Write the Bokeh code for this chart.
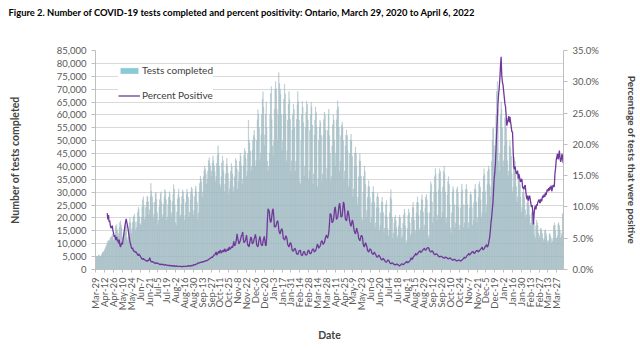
import math
from bokeh.plotting import figure
from bokeh.models import (Range1d, LinearAxis, FixedTicker, NumeralTickFormatter,
                          PrintfTickFormatter, Legend, LegendItem, Title)
from bokeh.embed import file_html
from bokeh.resources import INLINE

title_text = ("Figure 2. Number of COVID-19 tests completed and percent positivity: "
              "Ontario, March 29, 2020 to April 6, 2022")

tick_labels = ["Mar-29", "Apr-12", "Apr-26", "May-10", "May-24", "Jun-7", "Jun-21", "Jul-5",
               "Jul-19", "Aug-2", "Aug-16", "Aug-30", "Sep-13", "Sep-27", "Oct-11", "Oct-25",
               "Nov-8", "Nov-22", "Dec-6", "Dec-20", "Jan-3", "Jan-17", "Jan-31", "Feb-14",
               "Feb-28", "Mar-14", "Mar-28", "Apr-11", "Apr-25", "May-9", "May-23", "Jun-6",
               "Jun-20", "Jul-4", "Jul-18", "Aug-1", "Aug-15", "Aug-29", "Sep-12", "Sep-26",
               "Oct-10", "Oct-24", "Nov-7", "Nov-21", "Dec-5", "Dec-19", "Jan-2", "Jan-16",
               "Jan-30", "Feb-13", "Feb-27", "Mar-13", "Mar-27"]

# Daily tests completed (thousands), one row per week starting Sunday Mar 29, 2020
tests_k = [
    [5.5, 5.2, 4.8, 5.0, 5.4, 5.8, 5.3],
    [5.0, 5.2, 5.8, 6.3, 6.6, 6.9, 7.2],
    [7.8, 8.3, 8.9, 9.6, 10.2, 11.0, 11.3],
    [10.8, 11.5, 12.6, 12.2, 12.9, 13.8, 12.8],
    [11.2, 12.0, 13.2, 17.0, 16.2, 17.5, 15.4],
    [13.0, 14.1, 16.4, 18.2, 18.9, 17.3, 16.0],
    [12.4, 10.8, 12.0, 14.2, 17.1, 18.4, 17.0],
    [12.2, 11.4, 12.6, 16.0, 18.3, 20.1, 18.2],
    [14.0, 15.8, 18.2, 20.3, 20.6, 21.5, 18.4],
    [15.2, 16.3, 18.5, 22.1, 24.2, 23.4, 20.5],
    [17.8, 17.2, 20.4, 24.3, 27.1, 28.2, 25.0],
    [19.3, 20.4, 24.1, 26.2, 28.5, 28.1, 26.3],
    [21.0, 23.2, 28.3, 33.5, 30.4, 28.2, 26.0],
    [20.1, 21.4, 26.2, 29.4, 30.1, 27.2, 22.0],
    [17.3, 19.2, 24.3, 27.1, 29.4, 30.2, 26.1],
    [20.2, 21.3, 25.4, 28.2, 31.1, 30.3, 27.2],
    [19.1, 20.4, 25.2, 28.1, 30.2, 29.4, 27.0],
    [20.3, 22.1, 26.4, 29.2, 33.0, 31.2, 25.1],
    [18.2, 17.1, 22.3, 27.4, 29.2, 31.3, 28.1],
    [20.1, 21.2, 25.3, 28.4, 31.0, 30.2, 27.4],
    [19.2, 21.1, 26.0, 29.3, 31.2, 30.1, 28.0],
    [20.4, 22.2, 27.1, 30.2, 32.0, 31.3, 29.1],
    [21.2, 23.1, 28.2, 31.3, 32.4, 30.2, 26.0],
    [19.3, 22.0, 30.1, 33.4, 36.2, 35.1, 34.0],
    [28.1, 30.2, 36.1, 38.3, 40.2, 39.1, 37.0],
    [33.2, 35.1, 38.2, 42.3, 43.4, 41.2, 40.1],
    [36.1, 38.2, 41.3, 44.1, 42.2, 40.3, 38.0],
    [34.2, 36.1, 41.2, 44.3, 48.0, 45.1, 40.2],
    [33.1, 32.0, 36.2, 41.3, 44.1, 42.2, 38.1],
    [30.2, 33.1, 37.2, 41.0, 43.2, 40.1, 37.3],
    [29.1, 31.2, 34.3, 38.1, 41.2, 40.0, 37.1],
    [30.2, 32.1, 36.0, 40.2, 43.1, 42.3, 39.0],
    [31.1, 34.2, 38.0, 42.1, 45.2, 44.0, 40.3],
    [33.2, 35.1, 40.2, 44.3, 47.1, 46.0, 43.2],
    [36.1, 38.2, 45.0, 58.0, 50.2, 49.1, 46.0],
    [38.2, 40.1, 46.3, 50.2, 52.1, 54.0, 51.2],
    [40.1, 42.3, 50.2, 58.1, 62.0, 60.2, 55.1],
    [42.2, 45.1, 52.3, 60.1, 66.2, 69.0, 63.1],
    [48.1, 52.2, 60.3, 65.1, 55.0, 42.1, 38.2],
    [40.1, 45.2, 60.1, 68.3, 71.0, 58.2, 48.0],
    [44.2, 50.1, 62.3, 70.1, 73.0, 70.2, 62.1],
    [50.2, 60.1, 76.5, 72.3, 70.1, 68.0, 60.2],
    [46.1, 50.2, 60.3, 66.1, 72.0, 68.2, 60.1],
    [42.2, 46.1, 58.0, 64.2, 69.1, 66.0, 58.3],
    [38.1, 42.2, 54.1, 60.0, 64.2, 62.1, 55.0],
    [38.2, 42.1, 58.3, 64.0, 69.1, 65.2, 58.0],
    [34.1, 33.2, 50.1, 60.2, 65.3, 63.0, 57.1],
    [36.2, 40.1, 55.2, 61.0, 65.4, 64.1, 58.0],
    [35.1, 38.2, 54.0, 60.1, 65.0, 63.2, 56.1],
    [33.2, 37.1, 52.2, 58.0, 63.1, 61.0, 55.2],
    [32.1, 35.2, 50.1, 55.3, 58.0, 57.1, 52.0],
    [34.2, 37.1, 52.0, 58.2, 61.1, 60.0, 54.1],
    [35.1, 39.2, 54.0, 60.1, 62.2, 52.0, 45.1],
    [34.2, 36.1, 48.0, 56.2, 60.1, 58.0, 50.2],
    [40.1, 45.2, 58.1, 62.0, 65.5, 63.1, 55.2],
    [38.2, 42.1, 52.0, 56.1, 57.2, 55.0, 50.1],
    [35.1, 38.2, 48.0, 52.1, 54.2, 52.0, 46.1],
    [32.2, 35.1, 45.0, 50.2, 52.6, 50.1, 44.0],
    [28.1, 31.2, 40.0, 45.1, 47.5, 45.2, 40.0],
    [25.2, 28.1, 36.0, 42.2, 45.0, 42.1, 36.2],
    [20.1, 19.2, 30.0, 36.1, 40.2, 38.0, 33.1],
    [20.2, 23.1, 28.0, 32.2, 34.5, 32.1, 28.0],
    [18.1, 20.2, 26.0, 30.1, 32.2, 30.0, 26.1],
    [16.2, 18.1, 24.0, 28.2, 29.6, 28.1, 24.0],
    [15.1, 17.2, 22.0, 26.1, 28.0, 26.2, 22.1],
    [14.2, 16.1, 21.0, 25.2, 26.8, 20.1, 16.0],
    [13.1, 15.2, 22.0, 28.1, 31.0, 27.2, 20.1],
    [12.2, 14.1, 18.0, 20.2, 21.1, 19.0, 16.2],
    [12.1, 13.2, 17.0, 20.1, 21.2, 20.0, 16.1],
    [12.2, 13.1, 18.0, 21.2, 23.5, 22.1, 17.0],
    [10.1, 11.2, 16.0, 21.1, 23.5, 22.0, 18.1],
    [13.2, 14.1, 20.0, 24.2, 26.1, 24.0, 19.2],
    [14.1, 15.2, 22.0, 26.1, 28.2, 26.0, 21.1],
    [15.2, 16.1, 23.0, 27.2, 29.1, 27.0, 22.2],
    [15.1, 17.2, 24.0, 28.1, 29.2, 27.1, 22.0],
    [13.2, 12.1, 22.0, 30.2, 34.1, 33.0, 26.2],
    [18.1, 20.2, 30.0, 36.1, 39.2, 37.0, 30.1],
    [19.2, 21.1, 31.0, 37.2, 39.1, 38.0, 30.2],
    [20.1, 22.2, 32.0, 38.1, 40.2, 37.0, 30.1],
    [18.2, 20.1, 29.0, 34.2, 36.1, 33.0, 25.2],
    [16.1, 14.2, 22.0, 30.1, 32.2, 31.0, 25.1],
    [16.2, 18.1, 25.0, 31.2, 32.1, 30.0, 24.2],
    [15.1, 17.2, 24.0, 30.1, 33.2, 31.0, 25.1],
    [16.2, 18.1, 25.0, 31.2, 33.1, 31.0, 25.2],
    [16.1, 18.2, 24.0, 29.1, 30.2, 29.0, 24.1],
    [17.2, 19.1, 26.0, 31.2, 33.1, 31.0, 26.2],
    [18.1, 20.2, 28.0, 33.1, 34.2, 32.0, 27.1],
    [20.2, 22.1, 30.0, 36.2, 39.1, 37.0, 30.2],
    [22.1, 25.2, 33.0, 38.1, 40.2, 39.0, 33.1],
    [28.2, 32.1, 42.0, 50.2, 54.6, 55.0, 48.1],
    [40.1, 45.2, 60.0, 69.1, 73.0, 62.2, 42.0],
    [38.1, 45.2, 60.0, 65.1, 62.2, 55.0, 40.1],
    [42.2, 48.1, 59.0, 58.2, 55.1, 50.0, 42.2],
    [36.1, 38.2, 48.0, 50.1, 47.2, 44.0, 37.1],
    [30.2, 32.1, 42.0, 43.6, 42.1, 38.0, 32.2],
    [26.1, 28.2, 36.0, 37.1, 36.2, 33.0, 28.1],
    [22.2, 24.1, 30.0, 31.2, 30.1, 28.0, 23.2],
    [20.1, 21.2, 26.0, 28.1, 27.2, 25.0, 21.1],
    [17.2, 18.1, 22.0, 23.1, 22.2, 21.0, 18.1],
    [13.2, 12.1, 17.0, 19.2, 18.1, 17.0, 14.2],
    [12.1, 13.2, 15.8, 16.1, 15.2, 14.0, 12.1],
    [11.2, 12.1, 15.0, 15.5, 14.1, 13.0, 11.2],
    [10.1, 11.2, 13.8, 14.1, 13.0, 12.1, 10.2],
    [11.1, 12.2, 17.0, 18.1, 17.2, 15.0, 12.1],
    [12.2, 13.1, 17.7, 18.2, 17.1, 15.0, 12.2],
    [13.1, 14.2, 21.6, 22.0],
]

N = None
# Daily percent positive (%), same weekly rows
pct_pos = [
    [N, N, N, N, N, N, N],
    [N, N, N, N, N, N, N],
    [N, N, N, N, 9.0, 8.0, 8.7],
    [7.6, 7.8, 7.0, 6.6, 6.8, 7.0, 6.2],
    [5.8, 5.2, 5.5, 5.0, 4.7, 5.2, 4.6],
    [4.6, 4.2, 4.8, 3.9, 3.6, 4.0, 4.3],
    [4.0, 4.8, 5.5, 6.2, 7.0, 7.6, 8.1],
    [7.5, 7.0, 6.4, 5.7, 5.0, 4.4, 4.0],
    [3.6, 3.3, 3.5, 3.1, 2.9, 3.0, 2.8],
    [2.7, 2.8, 2.5, 2.4, 2.2, 2.5, 2.3],
    [2.2, 2.0, 1.8, 1.7, 1.6, 1.8, 1.6],
    [1.6, 1.5, 1.4, 1.4, 1.3, 1.5, 1.4],
    [1.5, 1.9, 1.6, 1.3, 1.2, 1.3, 1.2],
    [1.2, 1.1, 1.0, 1.0, 1.1, 1.0, 1.0],
    [1.0, 0.9, 0.9, 0.8, 0.8, 0.9, 0.8],
    [0.8, 0.8, 0.8, 0.7, 0.7, 0.8, 0.7],
    [0.7, 0.7, 0.6, 0.7, 0.6, 0.7, 0.6],
    [0.6, 0.6, 0.6, 0.5, 0.6, 0.6, 0.5],
    [0.5, 0.6, 0.5, 0.5, 0.5, 0.5, 0.5],
    [0.5, 0.5, 0.5, 0.4, 0.5, 0.5, 0.5],
    [0.5, 0.5, 0.5, 0.5, 0.5, 0.6, 0.5],
    [0.6, 0.6, 0.5, 0.6, 0.6, 0.7, 0.6],
    [0.7, 0.8, 0.7, 0.8, 0.8, 0.9, 0.9],
    [1.0, 1.1, 1.0, 1.1, 1.1, 1.2, 1.1],
    [1.2, 1.3, 1.2, 1.3, 1.3, 1.4, 1.4],
    [1.4, 1.5, 1.5, 1.6, 1.7, 1.7, 1.8],
    [1.9, 2.0, 1.9, 2.1, 2.2, 2.4, 2.3],
    [2.6, 2.8, 2.3, 2.5, 2.7, 2.9, 2.6],
    [3.0, 3.1, 2.6, 2.8, 2.9, 3.1, 2.8],
    [3.2, 3.3, 2.8, 3.0, 3.1, 3.3, 3.0],
    [3.4, 3.6, 3.2, 3.4, 3.5, 3.7, 3.5],
    [4.0, 4.5, 3.8, 3.9, 4.2, 4.8, 5.7],
    [5.0, 4.6, 4.1, 4.3, 4.6, 5.0, 5.4],
    [5.6, 6.0, 4.8, 4.3, 4.4, 4.6, 5.0],
    [5.5, 4.6, 3.8, 4.0, 3.6, 4.2, 4.8],
    [5.2, 4.9, 4.1, 4.2, 4.4, 4.9, 5.2],
    [5.6, 5.0, 3.9, 3.8, 3.6, 4.3, 4.8],
    [5.3, 4.8, 4.0, 3.9, 3.8, 4.4, 4.9],
    [5.3, 4.6, 3.8, 3.9, 5.5, 8.0, 9.7],
    [9.5, 9.2, 8.0, 7.5, 7.8, 8.6, 9.4],
    [9.7, 8.5, 6.8, 6.9, 6.8, 7.2, 7.6],
    [7.8, 7.4, 6.3, 5.9, 5.7, 6.1, 6.4],
    [6.5, 6.0, 5.0, 4.9, 4.7, 5.0, 5.4],
    [5.2, 4.8, 4.0, 3.8, 3.6, 4.0, 4.3],
    [4.2, 3.8, 3.1, 3.0, 2.9, 3.2, 3.4],
    [3.3, 3.0, 2.5, 2.5, 2.4, 2.7, 3.0],
    [3.0, 3.1, 2.4, 2.3, 2.2, 2.5, 2.8],
    [2.9, 2.7, 2.3, 2.4, 2.3, 2.6, 3.0],
    [3.1, 2.9, 2.5, 2.6, 2.6, 2.9, 3.2],
    [3.3, 3.2, 2.8, 2.9, 3.0, 3.3, 3.7],
    [4.1, 3.8, 3.4, 3.6, 3.7, 4.0, 4.5],
    [4.6, 4.4, 4.0, 4.2, 4.3, 4.8, 5.2],
    [5.5, 5.3, 5.0, 5.4, 6.0, 7.3, 8.9],
    [8.9, 8.5, 7.5, 7.6, 7.8, 8.5, 9.6],
    [10.0, 9.2, 8.0, 8.2, 8.4, 9.2, 10.2],
    [10.6, 9.8, 8.4, 8.4, 8.6, 9.6, 10.8],
    [10.5, 9.4, 8.1, 7.9, 7.8, 8.6, 9.4],
    [9.0, 8.4, 7.6, 7.2, 6.9, 7.4, 7.9],
    [7.6, 6.9, 6.2, 5.9, 5.7, 6.2, 6.6],
    [6.1, 5.8, 5.0, 4.8, 4.6, 5.0, 5.4],
    [5.4, 5.2, 4.2, 3.8, 3.6, 4.0, 4.3],
    [4.0, 3.7, 3.1, 2.9, 2.8, 3.1, 3.3],
    [3.2, 3.0, 2.6, 2.5, 2.4, 2.6, 2.8],
    [2.5, 2.4, 2.1, 2.0, 2.0, 2.2, 2.3],
    [2.1, 2.0, 1.7, 1.6, 1.5, 1.7, 1.8],
    [1.6, 1.5, 1.3, 1.2, 1.2, 1.3, 1.5],
    [1.5, 1.4, 1.1, 1.0, 0.9, 1.0, 1.1],
    [1.0, 0.9, 0.8, 0.8, 0.7, 0.8, 0.9],
    [0.8, 0.8, 0.7, 0.6, 0.6, 0.7, 0.8],
    [0.9, 0.9, 0.8, 0.8, 0.9, 1.0, 1.1],
    [1.2, 1.3, 1.1, 1.1, 1.2, 1.3, 1.4],
    [1.6, 1.9, 1.6, 1.7, 1.9, 2.1, 2.2],
    [2.3, 2.6, 2.3, 2.4, 2.5, 2.7, 2.8],
    [2.9, 3.0, 2.7, 2.8, 2.9, 3.1, 3.2],
    [3.3, 3.4, 3.1, 3.1, 3.2, 3.4, 3.5],
    [3.5, 3.4, 3.0, 2.9, 2.8, 2.9, 3.0],
    [2.9, 2.7, 2.5, 2.4, 2.4, 2.5, 2.5],
    [2.4, 2.3, 2.1, 2.1, 2.0, 2.1, 2.1],
    [2.1, 2.0, 1.9, 1.9, 1.8, 1.9, 2.0],
    [1.9, 1.9, 1.8, 1.7, 1.7, 1.8, 1.8],
    [1.8, 1.7, 1.6, 1.5, 1.5, 1.6, 1.6],
    [1.6, 1.5, 1.4, 1.4, 1.4, 1.5, 1.5],
    [1.5, 1.4, 1.4, 1.4, 1.5, 1.6, 1.7],
    [1.8, 2.0, 1.8, 1.9, 2.0, 2.2, 2.3],
    [2.4, 2.6, 2.3, 2.4, 2.5, 2.7, 2.8],
    [2.8, 2.9, 2.6, 2.6, 2.7, 2.9, 3.0],
    [3.0, 3.1, 2.8, 2.9, 3.0, 3.2, 3.3],
    [3.4, 3.6, 3.2, 3.2, 3.3, 3.5, 3.7],
    [3.8, 4.0, 3.6, 3.7, 4.0, 4.6, 5.2],
    [6.2, 7.5, 8.3, 9.5, 10.5, 12.5, 14.5],
    [15.5, 17.0, 19.5, 22.0, 24.0, 26.5, 28.0],
    [29.0, 30.5, 32.5, 34.0, 31.0, 30.0, 29.5],
    [28.5, 27.5, 26.5, 26.0, 24.5, 23.0, 23.5],
    [24.0, 24.5, 23.5, 24.4, 23.5, 22.8, 22.0],
    [22.0, 19.0, 16.4, 16.0, 16.5, 15.8, 15.3],
    [15.4, 15.8, 14.5, 15.3, 14.8, 14.2, 14.0],
    [14.5, 14.3, 13.0, 13.2, 12.8, 13.3, 13.5],
    [12.5, 11.6, 11.2, 11.8, 11.0, 11.5, 11.8],
    [11.2, 10.5, 10.0, 10.3, 9.2, 7.2, 8.8],
    [9.8, 10.2, 9.6, 10.4, 10.2, 10.8, 11.0],
    [11.2, 10.6, 10.8, 11.3, 10.9, 11.5, 11.8],
    [11.5, 12.0, 11.6, 12.3, 11.9, 12.4, 12.8],
    [12.5, 13.0, 12.6, 13.2, 12.8, 13.4, 12.5],
    [13.0, 13.5, 13.2, 13.3, 15.3, 16.2, 17.5],
    [18.0, 18.5, 17.6, 18.2, 19.0, 17.8, 17.2],
    [17.6, 18.5, 18.0, 17.0],
]

tests = [v * 1000 for row in tests_k for v in row]
positivity = [math.nan if v is None else v for row in pct_pos for v in row]
days = list(range(len(tests)))
tick_days = [i * 14 for i in range(len(tick_labels))]

FONT = "Lato"
TICK_COLOR = "#595959"

p = figure(width=640, height=349, output_backend="svg", toolbar_location=None,
           x_range=Range1d(-0.5, len(days) - 0.5), y_range=Range1d(0, 85000),
           min_border_left=95, min_border_right=77, min_border_top=50, min_border_bottom=80)
p.outline_line_color = None
p.background_fill_color = "white"
p.border_fill_color = "white"

# spacer panel next to the frame, then the real title above it
spacer = Title(text=" ", text_font=FONT, text_font_size="9.4px", standoff=19,
               vertical_align="bottom", text_color="white")
p.add_layout(spacer, "above")
main_title = Title(text=title_text, align="left", offset=-87, standoff=2,
                   vertical_align="bottom", text_font=FONT, text_font_size="9.4px",
                   text_font_style="bold", text_color="black")
p.add_layout(main_title, "above")

p.xgrid.visible = False
p.ygrid.grid_line_color = "#D9D9D9"
p.ygrid.grid_line_width = 1

left = p.yaxis[0]
left.ticker = FixedTicker(ticks=list(range(0, 85001, 5000)))
left.formatter = NumeralTickFormatter(format="0,0")
left.axis_label = "Number of tests completed"
left.axis_label_text_font = FONT
left.axis_label_text_font_size = "10.5px"
left.axis_label_text_font_style = "bold"
left.axis_label_standoff = 33
left.major_label_text_font = FONT
left.major_label_text_font_size = "9.5px"
left.major_label_text_color = TICK_COLOR
left.axis_line_color = "#BFBFBF"
left.major_tick_line_color = "#BFBFBF"
left.major_tick_out = 4
left.major_tick_in = 0
left.minor_tick_line_color = None

p.extra_y_ranges = {"pct": Range1d(0, 35)}
right = LinearAxis(y_range_name="pct", ticker=FixedTicker(ticks=list(range(0, 36, 5))),
                   formatter=PrintfTickFormatter(format="%.1f%%"))
right.axis_label = "Percentage of tests that were positive"
right.axis_label_text_font = FONT
right.axis_label_text_font_size = "10px"
right.axis_label_text_font_style = "bold"
right.axis_label_standoff = 24
right.major_label_text_font = FONT
right.major_label_text_font_size = "9.5px"
right.major_label_text_color = TICK_COLOR
right.axis_line_color = "#BFBFBF"
right.major_tick_line_color = "#BFBFBF"
right.major_tick_out = 4
right.major_tick_in = 0
right.minor_tick_line_color = None
p.add_layout(right, "right")

xa = p.xaxis[0]
xa.ticker = FixedTicker(ticks=tick_days)
xa.major_label_overrides = {d: lab for d, lab in zip(tick_days, tick_labels)}
xa.major_label_orientation = math.pi / 2
xa.major_label_text_font = FONT
xa.major_label_text_font_size = "9.5px"
xa.major_label_text_color = TICK_COLOR
xa.axis_label = "Date"
xa.axis_label_text_font = FONT
xa.axis_label_text_font_size = "10.5px"
xa.axis_label_text_font_style = "bold"
xa.axis_label_standoff = 16
xa.axis_line_color = "#BFBFBF"
xa.major_tick_line_color = "#BFBFBF"
xa.major_tick_out = 3
xa.major_tick_in = 0
xa.minor_tick_line_color = None

bars = p.vbar(x=days, top=tests, width=0.75, fill_color="#84CCDA",
              line_color="#B7AFB4", line_width=0.25)
line = p.line(days, positivity, y_range_name="pct", line_color="#70389A", line_width=1.3)

legend = Legend(items=[LegendItem(label="Tests completed", renderers=[bars]),
                       LegendItem(label="Percent Positive", renderers=[line])],
                location=(23, 168), orientation="vertical",
                glyph_width=22, glyph_height=7, label_height=12, spacing=13,
                padding=5, label_standoff=2,
                label_text_font=FONT, label_text_font_size="10px",
                label_text_color="#404040",
                border_line_color=None, background_fill_color="white",
                background_fill_alpha=1.0)
p.add_layout(legend)

open("out.html", "w").write(file_html(p, INLINE))
